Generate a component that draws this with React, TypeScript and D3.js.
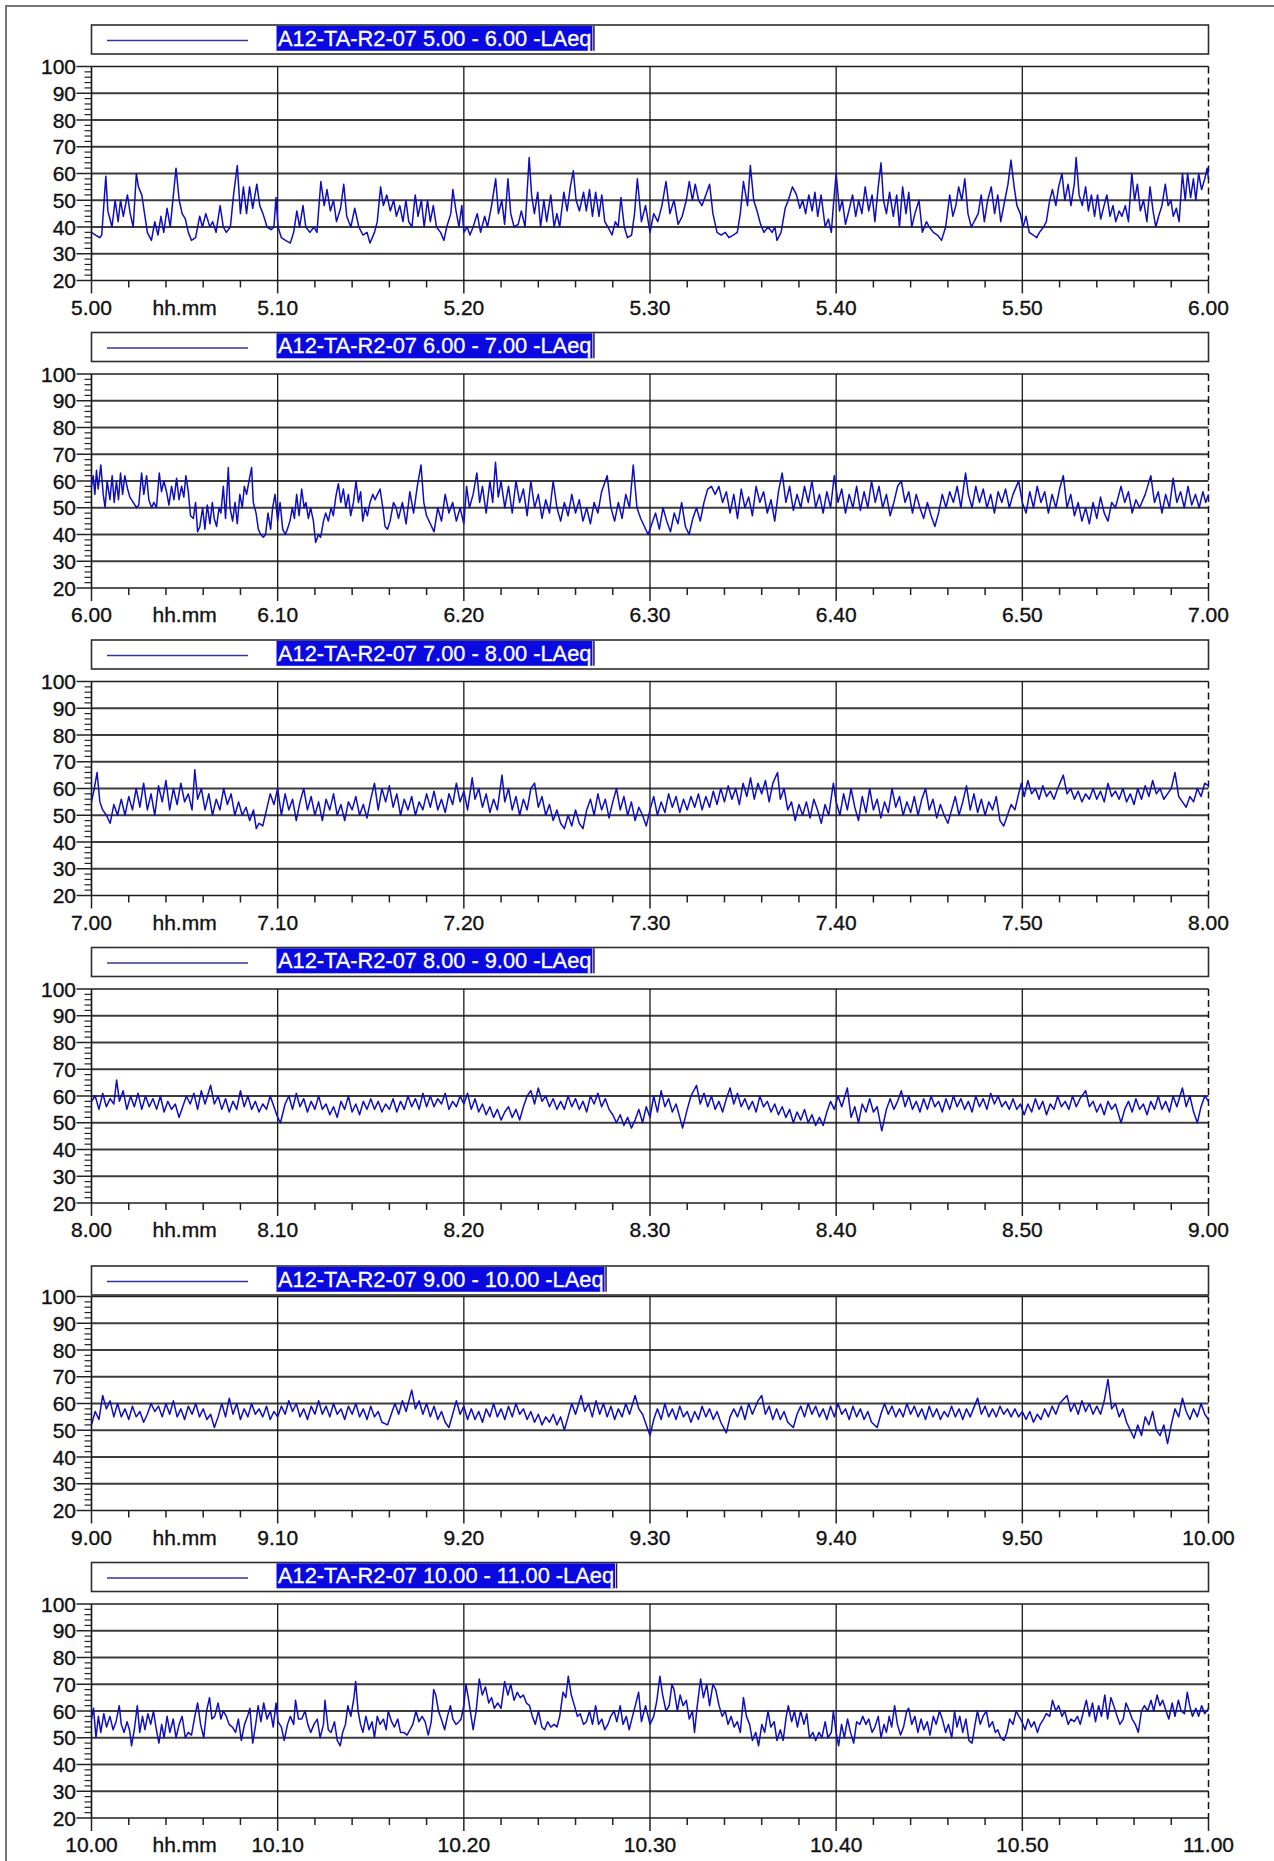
import React, { useEffect, useRef } from "react";
import * as d3 from "d3";

// ---------- data ----------
const startHours = [5, 6, 7, 8, 9, 10];
const minuteTicks = [0, 10, 20, 30, 40, 50, 60];
const minorMinuteTicks = d3.range(0, 61, 2);
const dbTicks = [20, 30, 40, 50, 60, 70, 80, 90, 100];
const minorDbTicks = d3.range(20, 101, 2);
const stationId = "A12-TA-R2-07";
const metricName = "LAeq";
const axisUnit = "hh.mm";

// [minute within the hour, dB]
const panel1: [number, number][] = [[0,38],[0.22,37],[0.44,36],[0.55,37],[0.77,59],[0.88,46],[1.1,40],[1.27,50],[1.43,42],[1.56,50],[1.71,44],[1.93,52],[2.08,45],[2.24,40],[2.41,60],[2.52,55],[2.7,52],[2.85,45],[3.0,38],[3.22,35],[3.4,42],[3.57,37],[3.73,44],[3.88,38],[4.06,47],[4.23,40],[4.54,62],[4.71,50],[4.87,45],[5.04,43],[5.2,38],[5.37,35],[5.59,36],[5.81,44],[5.96,40],[6.14,45],[6.36,40],[6.51,42],[6.69,38],[6.91,48],[7.08,40],[7.24,38],[7.46,40],[7.63,52],[7.83,63],[8.0,45],[8.16,55],[8.33,45],[8.49,55],[8.66,47],[8.88,56],[9.04,48],[9.21,45],[9.43,40],[9.65,39],[9.8,40],[9.91,51],[10.02,40],[10.2,36],[10.42,35],[10.68,34],[10.86,38],[11.03,46],[11.18,40],[11.36,48],[11.51,40],[11.73,38],[11.95,40],[12.11,38],[12.32,57],[12.5,48],[12.65,54],[12.83,46],[13.0,50],[13.16,42],[13.38,47],[13.55,56],[13.71,44],[13.93,40],[14.14,47],[14.36,40],[14.58,37],[14.8,38],[14.96,34],[15.2,38],[15.35,42],[15.53,55],[15.68,48],[15.86,52],[16.05,46],[16.23,50],[16.38,44],[16.56,48],[16.73,42],[16.89,50],[17.04,42],[17.21,40],[17.39,52],[17.54,44],[17.72,50],[17.87,40],[18.05,50],[18.2,42],[18.36,48],[18.53,40],[18.75,38],[18.93,35],[19.08,40],[19.3,45],[19.41,54],[19.58,46],[19.74,40],[19.89,48],[20.0,38],[20.18,40],[20.33,37],[20.5,40],[20.72,45],[20.9,38],[21.12,44],[21.27,40],[21.49,48],[21.71,58],[21.86,45],[22.04,50],[22.19,41],[22.37,58],[22.52,45],[22.7,40],[22.92,41],[23.09,46],[23.29,40],[23.51,66],[23.64,52],[23.79,45],[23.97,53],[24.12,40],[24.3,50],[24.45,42],[24.67,52],[24.85,40],[25.0,45],[25.15,40],[25.37,53],[25.55,46],[25.72,55],[25.88,61],[26.03,50],[26.21,46],[26.43,53],[26.58,46],[26.75,54],[26.91,44],[27.08,53],[27.26,44],[27.41,52],[27.57,42],[27.74,40],[27.96,37],[28.14,42],[28.29,40],[28.44,51],[28.62,40],[28.79,36],[29.01,37],[29.17,45],[29.32,58],[29.54,42],[29.76,48],[30.0,38],[30.2,45],[30.42,42],[30.64,48],[30.86,57],[31.07,45],[31.29,50],[31.51,41],[31.73,44],[31.95,50],[32.11,57],[32.28,50],[32.43,56],[32.61,50],[32.79,48],[33.0,52],[33.2,56],[33.38,45],[33.6,38],[33.82,37],[34.04,38],[34.25,36],[34.47,37],[34.69,38],[34.85,45],[35.02,57],[35.24,48],[35.39,63],[35.57,50],[35.75,46],[35.94,41],[36.12,38],[36.34,40],[36.56,38],[36.71,40],[36.82,35],[37.04,38],[37.26,47],[37.43,50],[37.65,55],[37.87,52],[38.05,47],[38.2,50],[38.36,45],[38.53,52],[38.71,46],[38.86,53],[39.01,44],[39.19,52],[39.41,40],[39.58,43],[39.74,38],[39.85,48],[40.0,60],[40.18,46],[40.33,50],[40.5,41],[40.68,46],[40.88,52],[41.05,44],[41.21,50],[41.38,45],[41.56,55],[41.75,46],[41.93,52],[42.08,42],[42.26,55],[42.41,64],[42.54,50],[42.7,45],[42.87,53],[43.07,44],[43.25,52],[43.4,40],[43.57,55],[43.75,45],[43.9,53],[44.06,40],[44.23,45],[44.45,50],[44.63,38],[44.85,42],[45.0,40],[45.22,38],[45.44,37],[45.66,35],[45.88,40],[46.1,52],[46.27,44],[46.43,48],[46.58,55],[46.75,50],[46.91,58],[47.08,45],[47.26,40],[47.41,42],[47.63,45],[47.79,52],[47.96,42],[48.14,50],[48.33,55],[48.51,45],[48.68,52],[48.84,42],[49.06,50],[49.23,56],[49.39,65],[49.56,55],[49.71,48],[49.89,45],[50.04,40],[50.2,44],[50.37,38],[50.59,37],[50.77,36],[50.92,38],[51.14,40],[51.29,42],[51.47,50],[51.62,54],[51.8,48],[51.95,55],[52.13,60],[52.28,50],[52.46,56],[52.61,48],[52.79,56],[52.89,66],[53.05,52],[53.22,48],[53.4,55],[53.55,46],[53.71,52],[53.88,44],[54.04,52],[54.21,43],[54.39,48],[54.54,52],[54.71,44],[54.87,48],[55.02,42],[55.2,46],[55.35,44],[55.53,48],[55.7,42],[55.88,60],[56.03,50],[56.18,56],[56.34,46],[56.51,50],[56.69,42],[56.86,55],[57.02,46],[57.17,40],[57.32,44],[57.5,48],[57.68,56],[57.83,48],[57.98,50],[58.11,44],[58.27,47],[58.42,42],[58.6,60],[58.75,50],[58.88,60],[59.04,51],[59.19,58],[59.32,50],[59.47,60],[59.63,54],[59.8,58],[59.93,62],[60,58]];

const panel2: [number, number][] = [[0,58],[0.09,62],[0.18,55],[0.27,64],[0.36,57],[0.5,66],[0.63,55],[0.73,50],[0.84,60],[0.99,53],[1.11,62],[1.22,52],[1.34,60],[1.45,53],[1.56,63],[1.67,55],[1.79,62],[1.94,57],[2.06,54],[2.24,52],[2.42,50],[2.54,51],[2.69,63],[2.81,55],[2.96,62],[3.08,53],[3.23,50],[3.35,52],[3.49,50],[3.64,63],[3.76,56],[3.89,60],[4.03,56],[4.16,51],[4.3,58],[4.43,53],[4.57,61],[4.7,53],[4.84,58],[4.96,54],[5.07,62],[5.2,56],[5.32,47],[5.47,46],[5.59,52],[5.7,41],[5.82,43],[5.97,50],[6.09,42],[6.22,51],[6.36,44],[6.49,52],[6.59,46],[6.72,43],[6.85,50],[6.95,48],[7.08,58],[7.2,46],[7.35,65],[7.44,50],[7.58,45],[7.71,52],[7.83,44],[7.97,55],[8.1,50],[8.21,58],[8.33,55],[8.46,60],[8.6,65],[8.69,52],[8.84,48],[8.96,42],[9.09,40],[9.23,39],[9.35,40],[9.48,48],[9.62,42],[9.73,50],[9.86,55],[10.0,45],[10.13,52],[10.27,42],[10.41,40],[10.52,42],[10.66,45],[10.79,50],[10.9,46],[11.02,55],[11.15,47],[11.29,57],[11.42,50],[11.52,52],[11.65,46],[11.77,50],[11.92,45],[12.04,37],[12.19,40],[12.31,39],[12.46,45],[12.58,48],[12.72,45],[12.87,50],[12.99,47],[13.12,54],[13.26,59],[13.39,52],[13.53,57],[13.66,50],[13.8,55],[13.92,47],[14.07,52],[14.21,60],[14.34,52],[14.46,56],[14.57,45],[14.7,50],[14.82,47],[14.96,52],[15.11,55],[15.23,53],[15.36,55],[15.5,57],[15.65,50],[15.77,43],[15.9,42],[16.04,45],[16.22,52],[16.36,50],[16.49,46],[16.7,52],[16.9,44],[17.1,56],[17.3,48],[17.5,58],[17.7,66],[17.85,52],[18.0,47],[18.2,44],[18.4,41],[18.6,50],[18.8,45],[19.0,55],[19.2,48],[19.4,52],[19.6,45],[19.8,50],[20.0,44],[20.15,58],[20.3,50],[20.5,55],[20.7,63],[20.85,52],[21.0,58],[21.2,48],[21.4,60],[21.55,52],[21.7,67],[21.85,54],[22.0,60],[22.2,50],[22.4,58],[22.6,48],[22.8,60],[23.0,52],[23.2,57],[23.4,47],[23.6,60],[23.8,50],[24.0,55],[24.2,46],[24.4,53],[24.6,48],[24.8,60],[25.0,50],[25.2,45],[25.4,52],[25.6,47],[25.8,55],[26.0,48],[26.2,53],[26.4,45],[26.6,50],[26.8,44],[27.0,52],[27.2,48],[27.4,56],[27.7,62],[27.9,50],[28.1,45],[28.3,52],[28.5,46],[28.7,55],[28.9,50],[29.1,66],[29.3,50],[29.5,46],[29.7,43],[29.9,40],[30.1,44],[30.3,48],[30.5,42],[30.7,50],[30.9,45],[31.1,41],[31.3,48],[31.5,44],[31.7,52],[31.9,43],[32.1,40],[32.3,46],[32.5,50],[32.7,45],[32.9,52],[33.1,57],[33.3,58],[33.5,55],[33.7,58],[33.9,52],[34.1,56],[34.3,48],[34.5,55],[34.7,46],[34.9,57],[35.1,50],[35.3,54],[35.5,47],[35.7,58],[35.9,52],[36.1,56],[36.3,48],[36.5,53],[36.7,45],[36.9,56],[37.1,63],[37.3,52],[37.5,58],[37.7,49],[37.9,55],[38.1,50],[38.3,58],[38.5,52],[38.7,60],[38.9,50],[39.1,55],[39.3,48],[39.5,56],[39.7,50],[39.9,62],[40.1,52],[40.3,57],[40.5,48],[40.7,55],[40.9,50],[41.1,58],[41.3,49],[41.5,56],[41.7,50],[41.9,60],[42.1,52],[42.3,58],[42.5,50],[42.7,55],[42.9,47],[43.1,52],[43.3,58],[43.5,60],[43.7,52],[43.9,56],[44.1,48],[44.3,55],[44.5,50],[44.7,46],[44.9,52],[45.1,47],[45.3,43],[45.5,48],[45.7,55],[45.9,50],[46.1,56],[46.3,52],[46.5,58],[46.7,50],[46.95,63],[47.1,55],[47.3,50],[47.5,58],[47.7,52],[47.9,57],[48.1,50],[48.3,55],[48.5,48],[48.7,56],[48.9,52],[49.1,57],[49.3,50],[49.5,55],[49.8,60],[50.0,52],[50.2,48],[50.4,56],[50.6,50],[50.8,58],[51.0,52],[51.2,56],[51.4,48],[51.6,55],[51.8,50],[52.0,57],[52.2,62],[52.4,50],[52.6,55],[52.8,47],[53.0,52],[53.2,45],[53.4,50],[53.6,44],[53.8,52],[54.0,46],[54.2,54],[54.4,48],[54.6,45],[54.8,52],[55.0,50],[55.3,58],[55.5,52],[55.7,56],[55.9,48],[56.1,53],[56.3,50],[56.6,55],[56.9,62],[57.1,52],[57.3,56],[57.5,48],[57.7,55],[57.9,50],[58.1,61],[58.3,52],[58.5,56],[58.7,50],[58.9,58],[59.1,51],[59.3,55],[59.5,50],[59.7,56],[59.85,52],[60,55]];

const panel3: [number, number][] = [[0,55],[0.15,60],[0.3,66],[0.45,55],[0.6,52],[0.8,50],[1.0,47],[1.2,54],[1.4,50],[1.6,56],[1.8,50],[2.0,57],[2.2,52],[2.4,60],[2.6,53],[2.8,62],[3.0,52],[3.2,58],[3.4,50],[3.6,61],[3.8,55],[4.0,63],[4.2,52],[4.4,60],[4.6,54],[4.8,62],[5.0,55],[5.2,58],[5.4,52],[5.55,67],[5.7,56],[5.9,60],[6.1,52],[6.3,58],[6.5,50],[6.7,56],[6.9,52],[7.1,60],[7.3,54],[7.5,58],[7.7,50],[7.9,55],[8.1,50],[8.3,53],[8.5,48],[8.7,52],[8.85,45],[9.0,47],[9.2,46],[9.4,52],[9.6,58],[9.8,54],[10.0,60],[10.2,50],[10.4,58],[10.6,52],[10.8,56],[11.0,48],[11.2,55],[11.4,60],[11.6,52],[11.8,57],[12.0,50],[12.2,55],[12.4,48],[12.6,56],[12.8,52],[13.0,58],[13.2,50],[13.4,54],[13.6,48],[13.8,55],[14.0,52],[14.2,57],[14.4,50],[14.6,54],[14.8,49],[15.0,56],[15.2,62],[15.4,52],[15.6,60],[15.8,55],[16.0,61],[16.2,53],[16.4,58],[16.6,50],[16.8,56],[17.0,52],[17.2,57],[17.4,50],[17.6,55],[17.8,52],[18.0,58],[18.2,53],[18.4,59],[18.6,52],[18.8,56],[19.0,51],[19.2,58],[19.4,54],[19.6,62],[19.8,55],[20.0,59],[20.2,52],[20.45,64],[20.6,56],[20.8,60],[21.0,53],[21.2,58],[21.4,51],[21.6,56],[21.8,52],[22.05,65],[22.2,55],[22.4,60],[22.6,52],[22.8,57],[23.0,50],[23.2,56],[23.4,52],[23.6,60],[23.8,62],[24.0,53],[24.2,57],[24.4,50],[24.6,54],[24.8,48],[25.0,52],[25.2,47],[25.4,45],[25.6,50],[25.8,46],[26.0,52],[26.2,47],[26.4,45],[26.6,52],[26.8,56],[27.0,50],[27.2,58],[27.4,52],[27.6,56],[27.8,49],[28.0,55],[28.2,60],[28.4,52],[28.6,57],[28.8,50],[29.0,55],[29.2,48],[29.4,53],[29.6,50],[29.8,46],[30.0,52],[30.2,57],[30.4,50],[30.6,55],[30.8,51],[31.0,58],[31.2,53],[31.4,57],[31.6,51],[31.8,56],[32.0,52],[32.2,57],[32.4,53],[32.6,58],[32.8,52],[33.0,57],[33.2,53],[33.4,59],[33.6,54],[33.8,60],[34.0,55],[34.2,61],[34.4,56],[34.6,60],[34.8,54],[35.0,62],[35.2,57],[35.4,64],[35.6,56],[35.8,62],[36.0,58],[36.2,63],[36.4,55],[36.6,62],[36.85,66],[37.0,56],[37.2,60],[37.4,52],[37.6,55],[37.8,48],[38.0,54],[38.2,50],[38.4,55],[38.6,49],[38.8,56],[39.0,52],[39.2,47],[39.4,54],[39.6,50],[39.85,62],[40.0,55],[40.2,50],[40.4,58],[40.6,52],[40.8,60],[41.0,53],[41.2,48],[41.4,57],[41.6,51],[41.8,60],[42.0,52],[42.2,56],[42.4,49],[42.6,55],[42.8,51],[43.0,60],[43.2,53],[43.4,57],[43.6,50],[43.8,55],[44.0,51],[44.2,57],[44.4,50],[44.6,56],[44.8,60],[45.0,52],[45.2,56],[45.4,49],[45.6,54],[45.8,50],[46.0,47],[46.2,52],[46.4,57],[46.6,50],[46.8,55],[47.0,61],[47.2,52],[47.4,58],[47.6,51],[47.8,56],[48.0,50],[48.2,55],[48.4,52],[48.6,57],[48.8,48],[49.0,46],[49.2,50],[49.4,54],[49.6,52],[49.8,58],[49.95,62],[50.1,57],[50.3,63],[50.5,58],[50.7,60],[50.9,56],[51.1,61],[51.3,57],[51.5,59],[51.7,56],[51.9,60],[52.2,65],[52.4,58],[52.6,60],[52.8,56],[53.0,59],[53.2,55],[53.4,58],[53.6,56],[53.8,60],[54.0,56],[54.2,59],[54.4,55],[54.6,62],[54.8,57],[55.0,59],[55.2,56],[55.4,60],[55.6,55],[55.8,58],[56.0,54],[56.2,60],[56.4,56],[56.6,61],[56.8,57],[57.0,63],[57.2,58],[57.4,60],[57.6,56],[57.8,58],[58.0,60],[58.2,66],[58.4,57],[58.6,55],[58.8,53],[59.0,57],[59.2,55],[59.4,60],[59.6,57],[59.8,62],[60,61]];

const panel4: [number, number][] = [[0,58],[0.2,60],[0.4,55],[0.6,61],[0.8,56],[1.0,59],[1.2,57],[1.35,66],[1.5,58],[1.7,62],[1.9,55],[2.1,60],[2.3,56],[2.5,61],[2.7,55],[2.9,60],[3.1,56],[3.3,59],[3.5,55],[3.7,60],[3.9,54],[4.1,58],[4.3,55],[4.5,57],[4.7,52],[4.9,56],[5.1,60],[5.3,57],[5.5,61],[5.7,55],[5.9,62],[6.1,57],[6.4,64],[6.6,57],[6.8,60],[7.0,55],[7.2,59],[7.4,54],[7.6,58],[7.8,55],[8.0,62],[8.2,56],[8.4,60],[8.6,55],[8.8,58],[9.0,54],[9.2,57],[9.4,55],[9.6,60],[9.8,56],[10.0,52],[10.15,50],[10.4,57],[10.6,60],[10.8,55],[11.0,61],[11.2,56],[11.4,59],[11.6,54],[11.8,58],[12.0,55],[12.2,60],[12.4,55],[12.6,57],[12.8,53],[13.0,56],[13.2,52],[13.4,58],[13.6,55],[13.8,60],[14.0,54],[14.2,57],[14.4,53],[14.6,58],[14.8,55],[15.0,59],[15.2,55],[15.4,58],[15.6,54],[15.8,57],[16.0,55],[16.2,59],[16.4,54],[16.6,58],[16.8,55],[17.0,60],[17.2,56],[17.4,59],[17.6,55],[17.8,61],[18.0,56],[18.2,60],[18.4,56],[18.6,59],[18.8,57],[19.0,61],[19.2,55],[19.4,58],[19.6,56],[19.8,60],[20.0,57],[20.2,61],[20.4,55],[20.6,59],[20.8,54],[21.0,57],[21.2,53],[21.4,56],[21.6,52],[21.8,55],[22.0,51],[22.2,54],[22.4,56],[22.6,52],[22.8,55],[23.0,51],[23.2,56],[23.4,60],[23.6,62],[23.8,57],[24.0,63],[24.2,58],[24.4,60],[24.6,56],[24.8,59],[25.0,55],[25.2,58],[25.4,55],[25.6,60],[25.8,56],[26.0,59],[26.2,55],[26.4,58],[26.6,54],[26.8,60],[27.0,57],[27.2,61],[27.4,56],[27.6,59],[27.8,55],[28.0,53],[28.2,50],[28.4,53],[28.6,49],[28.8,52],[29.0,48],[29.2,51],[29.4,55],[29.6,50],[29.8,56],[30.0,52],[30.2,60],[30.4,54],[30.6,62],[30.8,56],[31.0,59],[31.2,54],[31.4,57],[31.6,52],[31.75,48],[32.0,55],[32.2,60],[32.5,64],[32.7,57],[32.9,61],[33.1,56],[33.3,60],[33.5,55],[33.7,58],[33.9,54],[34.1,59],[34.3,63],[34.5,57],[34.7,61],[34.9,56],[35.1,59],[35.3,55],[35.5,58],[35.7,54],[35.9,60],[36.1,56],[36.3,58],[36.5,54],[36.7,57],[36.9,53],[37.1,56],[37.3,52],[37.5,55],[37.7,50],[37.9,54],[38.1,51],[38.3,55],[38.5,50],[38.7,53],[38.9,49],[39.1,52],[39.3,49],[39.5,54],[39.7,58],[39.9,55],[40.1,60],[40.3,56],[40.6,63],[40.8,52],[41.0,56],[41.2,50],[41.4,57],[41.6,54],[41.8,59],[42.0,54],[42.2,56],[42.45,47],[42.7,55],[42.9,59],[43.1,55],[43.3,58],[43.5,62],[43.7,56],[43.9,60],[44.1,55],[44.3,58],[44.5,54],[44.7,59],[44.9,55],[45.1,60],[45.3,56],[45.5,58],[45.7,54],[45.9,59],[46.1,55],[46.3,60],[46.5,56],[46.7,59],[46.9,55],[47.1,58],[47.3,54],[47.5,60],[47.7,56],[47.9,59],[48.1,55],[48.3,61],[48.5,57],[48.7,60],[48.9,56],[49.1,58],[49.3,55],[49.5,59],[49.7,55],[49.9,57],[50.1,53],[50.3,57],[50.5,54],[50.7,59],[50.9,55],[51.1,58],[51.3,53],[51.5,57],[51.7,55],[51.9,60],[52.1,56],[52.3,58],[52.5,55],[52.7,60],[52.9,56],[53.1,59],[53.4,62],[53.6,56],[53.8,58],[54.0,54],[54.2,57],[54.4,53],[54.6,58],[54.8,55],[55.0,57],[55.3,50],[55.5,55],[55.7,58],[55.9,54],[56.1,59],[56.3,55],[56.5,57],[56.7,53],[56.9,58],[57.1,55],[57.3,60],[57.5,55],[57.7,58],[57.9,54],[58.1,60],[58.3,56],[58.6,63],[58.8,56],[59.0,60],[59.2,54],[59.4,50],[59.6,56],[59.8,60],[60,58]];

const panel5: [number, number][] = [[0,52],[0.2,57],[0.4,54],[0.6,63],[0.8,58],[1.0,61],[1.2,55],[1.4,60],[1.6,55],[1.8,58],[2.0,54],[2.2,59],[2.4,55],[2.6,57],[2.8,53],[3.0,56],[3.2,60],[3.4,57],[3.6,59],[3.8,55],[4.0,60],[4.2,56],[4.4,61],[4.6,55],[4.8,58],[5.0,54],[5.2,59],[5.4,56],[5.6,60],[5.8,55],[6.0,58],[6.2,54],[6.4,56],[6.6,51],[6.8,55],[7.0,60],[7.2,55],[7.4,62],[7.6,56],[7.8,60],[8.0,54],[8.2,58],[8.4,55],[8.6,60],[8.8,56],[9.0,58],[9.2,55],[9.4,59],[9.6,54],[9.8,57],[10.0,55],[10.2,59],[10.4,56],[10.6,61],[10.8,57],[11.0,60],[11.2,55],[11.4,58],[11.6,54],[11.8,59],[12.0,56],[12.2,61],[12.4,56],[12.6,59],[12.8,55],[13.0,60],[13.2,56],[13.4,58],[13.6,54],[13.8,59],[14.0,56],[14.2,60],[14.4,55],[14.6,58],[14.8,54],[15.0,59],[15.2,55],[15.4,57],[15.6,53],[15.9,52],[16.1,56],[16.3,60],[16.5,56],[16.7,61],[16.9,57],[17.2,65],[17.4,58],[17.6,61],[17.8,56],[18.0,60],[18.2,55],[18.4,59],[18.6,54],[18.8,57],[19.0,53],[19.2,51],[19.4,56],[19.6,61],[19.8,56],[20.0,59],[20.2,54],[20.4,58],[20.6,54],[20.8,57],[21.0,53],[21.2,58],[21.4,55],[21.6,60],[21.8,55],[22.0,58],[22.2,54],[22.4,59],[22.6,55],[22.8,60],[23.0,56],[23.2,58],[23.4,54],[23.6,57],[23.8,53],[24.0,56],[24.2,52],[24.4,55],[24.6,53],[24.8,56],[25.0,52],[25.2,55],[25.4,50],[25.6,55],[25.8,60],[26.0,56],[26.3,63],[26.5,57],[26.7,60],[26.9,55],[27.1,61],[27.3,56],[27.5,60],[27.7,55],[27.9,59],[28.1,54],[28.3,58],[28.5,55],[28.7,60],[28.9,56],[29.2,63],[29.4,58],[29.6,56],[29.8,52],[30.0,48],[30.2,54],[30.4,58],[30.6,54],[30.8,60],[31.0,55],[31.2,58],[31.4,54],[31.6,59],[31.8,55],[32.0,57],[32.2,53],[32.4,57],[32.6,54],[32.8,59],[33.0,55],[33.2,58],[33.4,54],[33.6,57],[33.8,53],[34.1,49],[34.3,55],[34.5,58],[34.7,55],[34.9,59],[35.1,54],[35.3,60],[35.5,56],[35.8,61],[36.0,63],[36.2,56],[36.4,59],[36.6,54],[36.8,58],[37.0,54],[37.2,57],[37.4,53],[37.7,51],[37.9,56],[38.1,59],[38.3,55],[38.5,60],[38.7,56],[38.9,59],[39.1,55],[39.3,58],[39.5,54],[39.7,59],[39.9,55],[40.1,60],[40.3,56],[40.5,58],[40.7,54],[40.9,59],[41.1,55],[41.3,58],[41.5,54],[41.7,57],[41.9,53],[42.2,51],[42.4,56],[42.6,60],[42.8,56],[43.0,59],[43.2,55],[43.4,58],[43.6,55],[43.8,60],[44.0,56],[44.2,59],[44.4,55],[44.6,58],[44.8,54],[45.0,59],[45.2,55],[45.4,58],[45.6,54],[45.8,57],[46.0,55],[46.2,59],[46.4,55],[46.6,58],[46.8,54],[47.0,58],[47.2,55],[47.6,62],[47.8,56],[48.0,59],[48.2,55],[48.4,58],[48.6,55],[48.8,59],[49.0,56],[49.2,58],[49.4,55],[49.6,58],[49.8,55],[50.0,57],[50.2,54],[50.4,57],[50.6,53],[50.8,56],[51.0,54],[51.2,58],[51.4,55],[51.6,59],[51.8,56],[52.0,60],[52.4,63],[52.6,57],[52.8,60],[53.0,56],[53.2,61],[53.4,57],[53.6,60],[53.8,56],[54.0,59],[54.2,56],[54.4,61],[54.6,69],[54.8,58],[55.0,60],[55.2,55],[55.4,58],[55.6,53],[55.8,50],[56.0,47],[56.2,52],[56.4,48],[56.6,55],[56.8,52],[57.0,57],[57.2,50],[57.4,48],[57.6,52],[57.8,45],[58.0,52],[58.2,58],[58.4,55],[58.6,62],[58.8,57],[59.0,54],[59.2,58],[59.4,55],[59.6,60],[59.8,56],[60,54]];

const panel6: [number, number][] = [[0,57],[0.11,61],[0.24,50],[0.37,58],[0.5,52],[0.66,59],[0.81,54],[0.99,58],[1.16,53],[1.32,56],[1.49,62],[1.6,55],[1.75,52],[1.91,56],[2.04,53],[2.15,47],[2.3,53],[2.46,62],[2.59,52],[2.74,58],[2.87,53],[3.03,59],[3.18,55],[3.33,60],[3.46,54],[3.62,48],[3.77,55],[3.9,50],[4.06,58],[4.21,52],[4.39,57],[4.54,50],[4.71,55],[4.87,58],[5.04,50],[5.2,52],[5.37,51],[5.55,58],[5.7,63],[5.86,55],[6.03,50],[6.18,60],[6.34,65],[6.47,57],[6.62,58],[6.8,63],[6.95,57],[7.08,60],[7.24,58],[7.39,55],[7.57,54],[7.74,52],[7.89,57],[8.05,49],[8.22,55],[8.38,58],[8.51,61],[8.66,48],[8.82,55],[8.95,62],[9.1,56],[9.25,63],[9.43,57],[9.61,60],[9.76,54],[9.91,63],[10.02,56],[10.2,54],[10.35,49],[10.53,55],[10.68,58],[10.86,55],[10.96,64],[11.12,57],[11.29,57],[11.47,60],[11.62,55],[11.78,52],[11.95,55],[12.13,57],[12.28,50],[12.46,55],[12.54,64],[12.72,53],[12.87,52],[13.05,56],[13.2,49],[13.36,47],[13.49,52],[13.64,55],[13.77,62],[13.93,58],[14.1,65],[14.19,71],[14.32,60],[14.45,55],[14.58,52],[14.74,58],[14.91,53],[15.07,56],[15.2,50],[15.35,58],[15.5,55],[15.68,57],[15.83,53],[15.94,60],[16.12,56],[16.27,54],[16.45,57],[16.6,52],[16.78,52],[16.95,51],[17.11,53],[17.26,55],[17.43,60],[17.59,56],[17.76,58],[17.92,56],[18.09,51],[18.25,56],[18.38,68],[18.49,66],[18.64,60],[18.79,57],[18.97,53],[19.12,58],[19.28,62],[19.41,57],[19.58,55],[19.74,56],[19.85,57],[20.0,62],[20.11,70],[20.24,65],[20.39,58],[20.5,53],[20.66,60],[20.83,72],[20.99,66],[21.16,69],[21.34,63],[21.49,65],[21.64,61],[21.82,63],[22.0,61],[22.19,71],[22.37,66],[22.52,70],[22.7,64],[22.87,67],[23.03,65],[23.2,66],[23.36,63],[23.53,62],[23.68,58],[23.84,55],[24.01,60],[24.19,54],[24.34,53],[24.5,56],[24.67,54],[24.85,55],[25.0,54],[25.15,58],[25.33,67],[25.48,65],[25.61,73],[25.77,66],[25.94,62],[26.1,58],[26.25,59],[26.43,55],[26.58,56],[26.75,60],[26.91,55],[27.08,62],[27.24,55],[27.41,57],[27.57,53],[27.74,55],[27.89,58],[28.07,60],[28.22,56],[28.4,62],[28.55,55],[28.73,58],[28.88,53],[29.06,58],[29.21,62],[29.39,67],[29.54,56],[29.76,62],[30.0,55],[30.2,58],[30.37,64],[30.53,73],[30.68,66],[30.86,60],[31.03,62],[31.18,70],[31.29,68],[31.47,60],[31.62,66],[31.78,62],[31.95,64],[32.11,57],[32.28,60],[32.39,52],[32.54,62],[32.72,72],[32.87,65],[33.05,70],[33.2,62],[33.38,70],[33.53,68],[33.71,62],[33.88,58],[34.04,60],[34.19,55],[34.36,58],[34.52,54],[34.69,56],[34.85,52],[35.02,65],[35.18,58],[35.35,55],[35.5,49],[35.68,52],[35.83,47],[36.01,55],[36.16,52],[36.34,60],[36.49,54],[36.67,56],[36.82,49],[37.0,53],[37.15,49],[37.32,58],[37.43,62],[37.61,56],[37.76,60],[37.92,54],[38.09,60],[38.27,55],[38.42,59],[38.57,50],[38.75,52],[38.9,49],[39.08,52],[39.23,50],[39.41,56],[39.56,50],[39.74,52],[39.85,60],[40.0,52],[40.13,47],[40.29,55],[40.44,50],[40.61,57],[40.77,52],[40.94,48],[41.1,56],[41.27,55],[41.43,58],[41.6,55],[41.75,57],[41.93,52],[42.08,54],[42.26,58],[42.41,50],[42.57,55],[42.7,52],[42.85,58],[42.98,54],[43.14,62],[43.29,55],[43.46,51],[43.62,54],[43.79,60],[43.9,61],[44.06,55],[44.23,58],[44.39,52],[44.56,57],[44.71,53],[44.89,56],[45.04,51],[45.22,58],[45.37,55],[45.55,60],[45.7,57],[45.88,52],[46.03,55],[46.21,50],[46.36,60],[46.49,54],[46.64,58],[46.8,52],[46.97,57],[47.13,49],[47.3,48],[47.46,55],[47.59,60],[47.74,55],[47.89,58],[48.07,60],[48.22,54],[48.4,56],[48.55,52],[48.68,53],[48.84,50],[49.01,49],[49.17,52],[49.32,57],[49.5,55],[49.67,60],[49.82,58],[49.98,56],[50.15,53],[50.31,57],[50.48,54],[50.64,56],[50.81,52],[50.96,55],[51.14,57],[51.29,59],[51.47,58],[51.62,64],[51.8,60],[51.95,62],[52.13,58],[52.28,60],[52.46,55],[52.61,57],[52.79,56],[52.96,58],[53.11,55],[53.29,60],[53.44,64],[53.6,58],[53.77,63],[53.93,56],[54.1,62],[54.25,58],[54.43,66],[54.58,57],[54.76,65],[54.91,62],[55.09,58],[55.24,55],[55.42,57],[55.57,63],[55.75,60],[55.9,57],[56.07,55],[56.23,52],[56.4,60],[56.56,62],[56.73,60],[56.91,64],[57.06,60],[57.24,66],[57.39,62],[57.54,64],[57.72,60],[57.87,57],[58.05,63],[58.2,58],[58.38,64],[58.53,60],[58.71,59],[58.86,67],[58.99,62],[59.14,58],[59.32,61],[59.47,58],[59.63,62],[59.8,59],[60,61]];

const panels = [panel1, panel2, panel3, panel4, panel5, panel6];

const pad2 = (m: number) => (m === 60 ? "00" : String(m).padStart(2, "0"));
const tickLabel = (h: number, m: number) => `${m === 60 ? h + 1 : h}.${pad2(m)}`;

export default function App() {
  const ref = useRef<SVGSVGElement>(null);

  useEffect(() => {
    const W = 1274;
    const H = 1861;
    const svg = d3.select(ref.current);
    svg.selectAll("*").remove();
    const font = "'Liberation Sans', Arial, sans-serif";
    const left = 91.5;
    const right = 1208.5;
    const plotH = 214;
    const top0 = 66.5;
    const step = 307.5;
    const ink = "#111";

    svg.append("rect").attr("width", W).attr("height", H).attr("fill", "#fff");
    // outer frame (top + left)
    svg.append("path")
      .attr("d", `M6,${H} V6 H${W}`)
      .attr("fill", "none")
      .attr("stroke", "#767676")
      .attr("stroke-width", 2);

    const x = d3.scaleLinear().domain([0, 60]).range([left, right]);

    const addText = (g: any, tx: number, ty: number, s: string, anchor: string) =>
      g.append("text")
        .attr("x", tx).attr("y", ty)
        .attr("text-anchor", anchor)
        .attr("font-family", font).attr("font-size", 21)
        .attr("fill", ink).attr("stroke", ink).attr("stroke-width", 0.35)
        .text(s);

    panels.forEach((data, i) => {
      const hour = startHours[i];
      const top = top0 + i * step;
      const bottom = top + plotH;
      const y = d3.scaleLinear().domain([20, 100]).range([bottom, top]);
      const g = svg.append("g");

      // legend box
      const lgTop = top - 41.5 + (i === 4 ? 11 : 0);
      const lgH = 29;
      g.append("rect")
        .attr("x", left).attr("y", lgTop)
        .attr("width", right - left).attr("height", lgH)
        .attr("fill", "#fff").attr("stroke", "#2e2e2e").attr("stroke-width", 1.6);
      g.append("line")
        .attr("x1", 107).attr("x2", 248)
        .attr("y1", lgTop + 15.5).attr("y2", lgTop + 15.5)
        .attr("stroke", "#34349a").attr("stroke-width", 1.6);
      const label = `${stationId} ${hour}.00 - ${hour + 1}.00 -${metricName}`;
      const hl = g.append("rect")
        .attr("x", 276.5).attr("y", lgTop + 0.8)
        .attr("height", 25).attr("fill", "#0a0ae0");
      const txt = g.append("text")
        .attr("x", 278).attr("y", lgTop + 20.5)
        .attr("font-family", font).attr("font-size", 21.8)
        .attr("fill", "#fff").attr("stroke", "#fff").attr("stroke-width", 0.3)
        .text(label);
      const tw = (txt.node() as SVGTextElement).getComputedTextLength();
      hl.attr("width", tw + 2.5);
      g.append("line")
        .attr("x1", 278 + tw + 2.5).attr("x2", 278 + tw + 2.5)
        .attr("y1", lgTop + 0.8).attr("y2", lgTop + 25.8)
        .attr("stroke", "#222").attr("stroke-width", 1.5);

      // horizontal grid lines
      dbTicks.forEach((v) => {
        g.append("line")
          .attr("x1", left).attr("x2", right)
          .attr("y1", y(v)).attr("y2", y(v))
          .attr("stroke", v === 20 || v === 100 ? "#1e1e1e" : "#3c3c3c")
          .attr("stroke-width", v === 20 || v === 100 ? 1.6 : 2);
      });
      // vertical grid lines
      minuteTicks.filter((m) => m > 0 && m < 60).forEach((m) => {
        g.append("line")
          .attr("x1", x(m)).attr("x2", x(m))
          .attr("y1", top).attr("y2", bottom)
          .attr("stroke", "#1a1a1a").attr("stroke-width", 1.3);
      });
      // left axis
      g.append("line")
        .attr("x1", left).attr("x2", left)
        .attr("y1", top).attr("y2", bottom)
        .attr("stroke", "#111").attr("stroke-width", 1.6);
      // right dashed edge
      g.append("line")
        .attr("x1", right).attr("x2", right)
        .attr("y1", top).attr("y2", bottom)
        .attr("stroke", "#111").attr("stroke-width", 1.5)
        .attr("stroke-dasharray", "7,4");

      // y ticks
      minorDbTicks.forEach((v) => {
        const major = v % 10 === 0;
        g.append("line")
          .attr("x1", major ? left - 15 : left - 7).attr("x2", left)
          .attr("y1", y(v)).attr("y2", y(v))
          .attr("stroke", "#222").attr("stroke-width", major ? 1.5 : 1.2);
      });
      dbTicks.forEach((v) => addText(g, 76, y(v) + 7.5, String(v), "end"));

      // x ticks
      minorMinuteTicks.forEach((m) => {
        const major = m % 10 === 0;
        g.append("line")
          .attr("x1", x(m)).attr("x2", x(m))
          .attr("y1", bottom).attr("y2", bottom + (major ? 13 : 7))
          .attr("stroke", "#222").attr("stroke-width", 1.5);
      });
      minuteTicks.forEach((m) => addText(g, x(m), bottom + 34, tickLabel(hour, m), "middle"));
      addText(g, x(5), bottom + 34, axisUnit, "middle");

      // series
      const line = d3.line<[number, number]>()
        .x((d) => x(d[0]))
        .y((d) => y(d[1]));
      g.append("path")
        .datum(data)
        .attr("d", line)
        .attr("fill", "none")
        .attr("stroke", "#0e0ebd")
        .attr("stroke-width", 1.5)
        .attr("stroke-linejoin", "round");
    });
  }, []);

  return (
    <svg
      ref={ref}
      width={1274}
      height={1861}
      style={{ position: "absolute", left: 0, top: 0, display: "block" }}
    />
  );
}
